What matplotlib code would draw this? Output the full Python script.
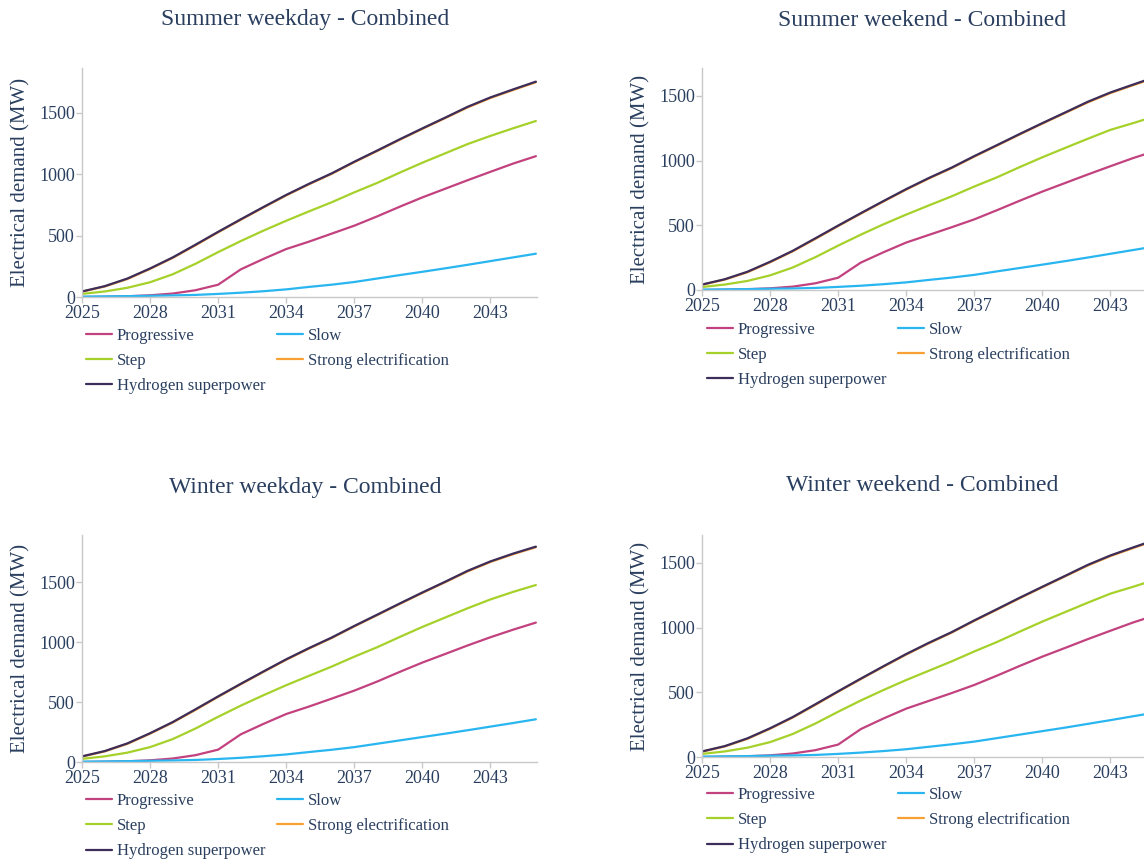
import matplotlib
matplotlib.use("Agg")
import matplotlib.pyplot as plt
from matplotlib.ticker import FixedLocator

years = list(range(2025, 2046))

series_names = ["Progressive", "Slow", "Step", "Strong electrification", "Hydrogen superpower"]
series_colors = ["#c2417f", "#29b6f0", "#a5d12a", "#f9a034", "#3c2d5a"]

titles = ["Summer weekday - Combined", "Summer weekend - Combined",
          "Winter weekday - Combined", "Winter weekend - Combined"]

# Summer weekday
sw_prog = [0, 2, 6, 14, 28, 55, 100, 225, 310, 390, 450, 515, 580, 655, 734, 810, 880, 950, 1018, 1085, 1145]
sw_slow = [3, 5, 7, 10, 13, 17, 25, 35, 47, 62, 82, 100, 122, 150, 178, 205, 233, 262, 292, 322, 352]
sw_step = [25, 45, 75, 120, 185, 270, 365, 455, 540, 620, 696, 770, 851, 927, 1011, 1092, 1168, 1244, 1310, 1372, 1431]
sw_strong = [43, 85, 146, 228, 318, 420, 526, 628, 728, 826, 916, 1001, 1096, 1186, 1278, 1367, 1454, 1542, 1618, 1683, 1746]
sw_hyd = [45, 88, 150, 232, 322, 425, 530, 632, 732, 830, 920, 1005, 1100, 1190, 1282, 1371, 1458, 1547, 1623, 1688, 1751]

# Summer weekend
se_prog = [0, 2, 6, 13, 26, 52, 95, 212, 292, 367, 426, 485, 546, 617, 690, 761, 827, 893, 957, 1020, 1076]
se_slow = [3, 5, 7, 10, 12, 16, 24, 33, 45, 59, 78, 96, 117, 144, 170, 196, 223, 251, 280, 309, 338]
se_step = [23, 42, 70, 113, 174, 254, 343, 428, 508, 583, 654, 724, 800, 871, 950, 1026, 1098, 1169, 1238, 1290, 1345]
se_strong = [40, 80, 137, 214, 299, 395, 494, 590, 684, 776, 862, 942, 1031, 1116, 1202, 1286, 1368, 1450, 1522, 1583, 1643]
se_hyd = [42, 83, 141, 218, 303, 400, 498, 594, 688, 780, 866, 946, 1035, 1120, 1206, 1290, 1372, 1455, 1527, 1588, 1648]

# Winter weekday
ww_prog = [0, 2, 6, 14, 29, 57, 103, 231, 318, 400, 462, 528, 595, 670, 751, 829, 900, 972, 1040, 1103, 1162]
ww_slow = [3, 5, 7, 10, 13, 17, 25, 35, 48, 63, 83, 102, 124, 152, 180, 208, 236, 265, 295, 325, 356]
ww_step = [26, 47, 78, 124, 191, 279, 377, 470, 557, 640, 718, 795, 878, 956, 1042, 1126, 1204, 1282, 1355, 1418, 1475]
ww_strong = [45, 88, 151, 236, 329, 434, 543, 648, 751, 852, 945, 1033, 1130, 1223, 1317, 1409, 1498, 1589, 1667, 1732, 1790]
ww_hyd = [47, 91, 155, 240, 333, 439, 547, 652, 755, 856, 949, 1037, 1134, 1227, 1321, 1413, 1502, 1594, 1672, 1737, 1795]

# Winter weekend
we_prog = [0, 2, 6, 13, 27, 53, 96, 216, 298, 374, 434, 494, 557, 629, 704, 776, 843, 911, 976, 1040, 1097]
we_slow = [3, 5, 7, 10, 12, 16, 24, 34, 46, 60, 79, 98, 119, 146, 173, 200, 227, 256, 285, 315, 344]
we_step = [24, 43, 72, 115, 178, 259, 350, 437, 518, 595, 667, 739, 816, 889, 969, 1047, 1120, 1193, 1263, 1316, 1372]
we_strong = [41, 81, 140, 218, 305, 403, 504, 602, 698, 792, 879, 961, 1052, 1139, 1227, 1312, 1396, 1480, 1553, 1615, 1675]
we_hyd = [43, 84, 144, 222, 309, 408, 508, 606, 702, 796, 883, 965, 1056, 1143, 1231, 1316, 1400, 1485, 1558, 1620, 1680]

panels = [
    [sw_prog, sw_slow, sw_step, sw_strong, sw_hyd],
    [se_prog, se_slow, se_step, se_strong, se_hyd],
    [ww_prog, ww_slow, ww_step, ww_strong, ww_hyd],
    [we_prog, we_slow, we_step, we_strong, we_hyd],
]

y_ticks = [0, 500, 1000, 1500]
x_ticks = [2025, 2028, 2031, 2034, 2037, 2040, 2043]
y_label = "Electrical demand (MW)"

# layout in pixels (left, right, top, bottom) and legend anchors
W, H = 1144, 863
boxes = [(82, 537, 68, 297), (702, 1157, 68, 290), (82, 537, 535, 762), (702, 1157, 535, 757)]
ytops = [1862, 1716, 1892, 1716]
title_pos = [(305, 20), (922, 20), (305, 487), (922, 485)]
legend_pos = [(86, 328), (707, 322), (86, 793), (707, 787)]

TXT = "#2a3f5f"
plt.rcParams['font.family'] = ['Liberation Serif', 'DejaVu Serif']

fig = plt.figure(figsize=(W / 100, H / 100), dpi=100)
fig.patch.set_facecolor("white")

for i, data in enumerate(panels):
    l, r, t, b = boxes[i]
    ax = fig.add_axes([l / W, 1 - b / H, (r - l) / W, (b - t) / H])
    handles = {}
    # draw order: progressive, slow, step, strong, hydrogen (hydrogen on top)
    for name, col, vals in zip(series_names, series_colors, data):
        ln, = ax.plot(years, vals, color=col, lw=1.6, label=name, solid_capstyle='round')
        handles[name] = ln
    ax.set_xlim(2025, 2045.05)
    ax.set_ylim(0, ytops[i])
    ax.xaxis.set_major_locator(FixedLocator(x_ticks))
    ax.yaxis.set_major_locator(FixedLocator(y_ticks))
    ax.set_xticklabels([str(x) for x in x_ticks])
    ax.set_yticklabels([str(y) for y in y_ticks])
    for side in ["top", "right"]:
        ax.spines[side].set_visible(False)
    for side in ["left", "bottom"]:
        ax.spines[side].set_color("#c8c8c8")
        ax.spines[side].set_linewidth(1.0)
    ax.tick_params(axis="both", direction="out", length=4, width=1, color="#c8c8c8",
                   labelsize=13, labelcolor=TXT, pad=1)
    ax.tick_params(axis="x", pad=2)
    ax.set_ylabel(y_label, fontsize=15, color=TXT, labelpad=6)
    fig.text(title_pos[i][0] / W, 1 - title_pos[i][1] / H, titles[i], ha="center", va="center",
             fontsize=17, color=TXT)
    order = ["Progressive", "Step", "Hydrogen superpower", "Slow", "Strong electrification"]
    lx, ly = legend_pos[i]
    ax.legend([handles[n] for n in order], order, loc="upper left",
              bbox_to_anchor=(lx / W, 1 - ly / H), bbox_transform=fig.transFigure,
              ncol=2, frameon=False, fontsize=12, labelcolor=TXT,
              handlelength=1.55, handletextpad=0.3, columnspacing=0.72,
              labelspacing=0.55, borderpad=0, borderaxespad=0)

fig.savefig("out.png", dpi=100, facecolor="white")
